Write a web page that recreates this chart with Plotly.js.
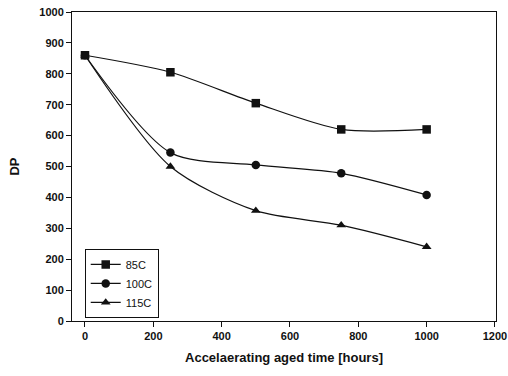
<!DOCTYPE html>
<html><head><meta charset="utf-8">
<script src="https://cdn.plot.ly/plotly-3.0.1.min.js"></script>
<style>html,body{margin:0;padding:0;background:#fff}#c{width:508px;height:376px}</style>
</head><body><div id="c"></div>
<script>
const hours = [0, 250, 500, 750, 1000];
const dp85 = [860, 805, 705, 620, 620];
const dp100 = [860, 545, 505, 478, 408];
const dp115 = [860, 500, 357, 310, 240];
const names = ['85C', '100C', '115C'];
const symbols = ['square', 'circle', 'triangle-up'];
const xTicks = [0, 200, 400, 600, 800, 1000, 1200];
const yTicks = [0, 100, 200, 300, 400, 500, 600, 700, 800, 900, 1000];

const series = [dp85, dp100, dp115];
const traces = series.map((ys, i) => ({
  x: hours, y: ys, name: names[i], type: 'scatter', mode: 'lines+markers',
  line: {color: '#111', width: 1.2, shape: 'spline', smoothing: 0.8},
  marker: {symbol: symbols[i], size: 8.5, color: '#111'}
}));

const layout = {
  width: 508, height: 376,
  margin: {l: 72, r: 12, t: 12, b: 55},
  paper_bgcolor: '#fff', plot_bgcolor: '#fff',
  font: {family: 'Liberation Sans, Arial, sans-serif', color: '#111', size: 11},
  showlegend: true,
  legend: {x: 0.03, y: 0.01, xanchor: 'left', yanchor: 'bottom',
    bordercolor: '#111', borderwidth: 1, bgcolor: '#fff',
    font: {family: 'Liberation Sans, Arial, sans-serif', size: 11, color: '#111'},
    tracegroupgap: 0, itemwidth: 30},
  xaxis: {range: [-38, 1203], tickvals: xTicks, ticktext: xTicks.map(String),
    showgrid: false, zeroline: false, showline: true, linecolor: '#111', linewidth: 1, mirror: true,
    ticks: 'outside', ticklen: 5, tickcolor: '#111',
    tickfont: {family: 'Liberation Sans, Arial, sans-serif', size: 11, color: '#111', weight: 'bold'},
    title: {text: '<b>Accelaerating aged time [hours]</b>', font: {family: 'Liberation Sans, Arial, sans-serif', size: 13, color: '#111'}, standoff: 11}},
  yaxis: {range: [0, 1000], tickvals: yTicks, ticktext: yTicks.map(String),
    showgrid: false, zeroline: false, showline: true, linecolor: '#111', linewidth: 1, mirror: true,
    ticks: 'outside', ticklen: 5, tickcolor: '#111',
    tickfont: {family: 'Liberation Sans, Arial, sans-serif', size: 11, color: '#111', weight: 'bold'},
    title: {text: '<b>DP</b>', font: {family: 'Liberation Sans, Arial, sans-serif', size: 13, color: '#111'}, standoff: 16}}
};
Plotly.newPlot('c', traces, layout, {displayModeBar: false, staticPlot: true});
</script></body></html>
